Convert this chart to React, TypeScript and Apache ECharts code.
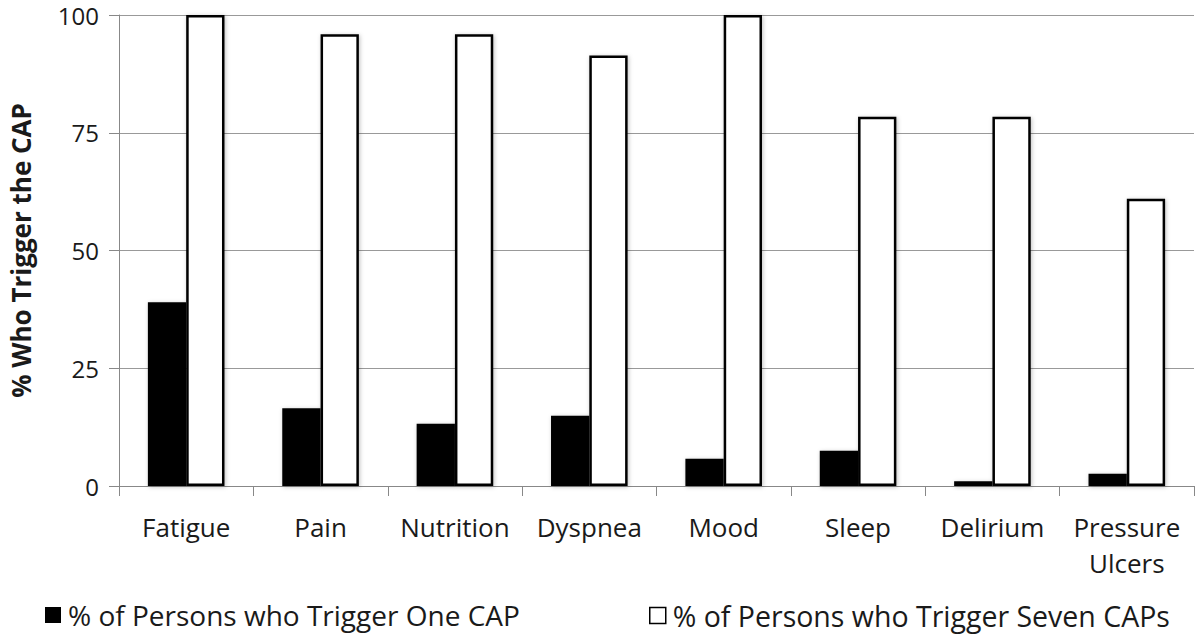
import React, { useEffect, useRef } from "react";
import * as echarts from "echarts";

const categories = ["Fatigue", "Pain", "Nutrition", "Dyspnea", "Mood", "Sleep", "Delirium", "Pressure\nUlcers"];
const oneCap = [39.0, 16.5, 13.2, 14.9, 5.8, 7.5, 1.0, 2.6];
const sevenCaps = [100, 95.9, 95.9, 91.4, 100, 78.4, 78.4, 61.0];
const seriesNames = ["% of Persons who Trigger One CAP", "% of Persons who Trigger Seven CAPs"];
const yTicks = { min: 0, max: 100, interval: 25 };

const FONT = "'Open Sans', 'Noto Sans', sans-serif";
const TEXT = "#1a1a1a";

export default function App() {
  const ref = useRef<HTMLDivElement>(null);
  useEffect(() => {
    if (!ref.current) return;
    const chart = echarts.init(ref.current, null, { renderer: "svg" });
    chart.setOption({
      animation: false,
      backgroundColor: "#ffffff",
      grid: { left: 116, right: 6, top: 15, bottom: 150 },
      legend: [
        {
          data: [seriesNames[0]],
          left: 45,
          top: 601,
          padding: 0,
          icon: "rect",
          itemWidth: 16,
          itemHeight: 16,
          textStyle: { fontFamily: FONT, fontSize: 28, color: TEXT, padding: [0, 0, 0, 2] },
        },
        {
          data: [seriesNames[1]],
          left: 649,
          top: 601,
          padding: 0,
          icon: "rect",
          itemWidth: 16,
          itemHeight: 16,
          itemStyle: { borderWidth: 1.5 },
          textStyle: { fontFamily: FONT, fontSize: 28.5, color: TEXT, padding: [0, 0, 0, 2] },
        },
      ],
      xAxis: {
        type: "category",
        data: categories,
        axisLine: { show: true, lineStyle: { color: "#888", width: 1 } },
        axisTick: { show: true, length: 10, alignWithLabel: false, lineStyle: { color: "#888" } },
        axisLabel: {
          fontFamily: FONT,
          fontSize: 26,
          color: TEXT,
          margin: 23,
          lineHeight: 36,
          interval: 0,
        },
      },
      yAxis: {
        type: "value",
        min: yTicks.min,
        max: yTicks.max,
        interval: yTicks.interval,
        name: "% Who Trigger the CAP",
        nameLocation: "middle",
        nameGap: 85,
        nameTextStyle: { fontFamily: FONT, fontSize: 26, fontWeight: "bold", color: TEXT },
        axisLine: { show: true, lineStyle: { color: "#888", width: 1 } },
        axisTick: { show: true, length: 10, lineStyle: { color: "#888" } },
        axisLabel: { fontFamily: FONT, fontSize: 24, color: TEXT, margin: 20 },
        splitLine: { show: true, lineStyle: { color: "#999", width: 1 } },
      },
      series: [
        {
          name: seriesNames[0],
          type: "bar",
          data: oneCap,
          barGap: "0%",
          barCategoryGap: "43%",
          itemStyle: {
            color: "#000",
            borderColor: "#000",
            borderWidth: 0,
            shadowBlur: 4,
            shadowColor: "rgba(0,0,0,0.25)",
            shadowOffsetX: 1,
            shadowOffsetY: 1,
          },
        },
        {
          name: seriesNames[1],
          type: "bar",
          data: sevenCaps,
          itemStyle: {
            color: "#fff",
            borderColor: "#000",
            borderWidth: 2.5,
            shadowBlur: 4,
            shadowColor: "rgba(0,0,0,0.25)",
            shadowOffsetX: 1,
            shadowOffsetY: 1,
          },
        },
      ],
    });
    return () => chart.dispose();
  }, []);
  return <div ref={ref} style={{ width: 1200, height: 636, position: "absolute", left: 0, top: 0 }} />;
}
